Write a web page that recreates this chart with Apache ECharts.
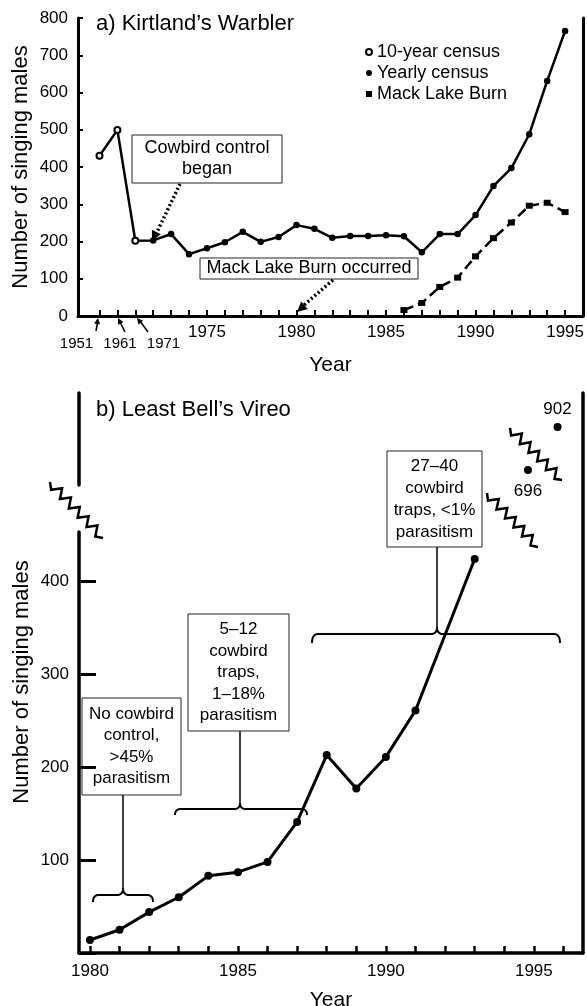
<!DOCTYPE html>
<html>
<head>
<meta charset="utf-8">
<script src="https://cdn.jsdelivr.net/npm/echarts@6.0.0/dist/echarts.min.js"></script>
<style>
  html, body { margin: 0; padding: 0; background: #fff; }
  #main { width: 587px; height: 1006px; }
</style>
</head>
<body>
<div id="main"></div>
<script>
// a) Kirtland's Warbler
// the three 10-year censuses sit on the first three tick positions of the axis
const tenYearLabels = ['1951', '1961', '1971']
const tenYearPos = [1969, 1970, 1971]
const tenYearVals = [430, 499, 202]
const yearlyYears = [1972, 1973, 1974, 1975, 1976, 1977, 1978, 1979, 1980, 1981, 1982, 1983,
  1984, 1985, 1986, 1987, 1988, 1989, 1990, 1991, 1992, 1993, 1994, 1995]
const yearlyVals = [203, 220, 166, 182, 198, 226, 199, 212, 244, 234, 210, 215,
  215, 217, 214, 171, 220, 220, 271, 349, 397, 488, 631, 765]
const mackYears = [1986, 1987, 1988, 1989, 1990, 1991, 1992, 1993, 1994, 1995]
const mackVals = [16, 35, 78, 103, 160, 209, 251, 296, 304, 279]
const topTicks = [1969, 1970, 1971, 1972, 1973, 1974, 1975, 1976, 1977, 1978, 1979, 1980, 1981,
  1982, 1983, 1984, 1985, 1986, 1987, 1988, 1989, 1990, 1991, 1992, 1993, 1994, 1995]
const topLabels = [1975, 1980, 1985, 1990, 1995]

// b) Least Bell's Vireo
const vireoYears = [1980, 1981, 1982, 1983, 1984, 1985, 1986, 1987, 1988, 1989, 1990, 1991, 1993]
const vireoVals = [14, 25, 44, 60, 83, 87, 98, 141, 213, 177, 211, 261, 424]
// points above the axis break
const vireoHighYears = [1994.8, 1995.8]
const vireoHighVals = [696, 902]
const bottomTicks = [1980, 1981, 1982, 1983, 1984, 1985, 1986, 1987, 1988, 1989, 1990, 1991,
  1992, 1993, 1994, 1995, 1996]
const bottomLabels = [1980, 1985, 1990, 1995]

const FONT = "'Liberation Sans', Arial, Helvetica, sans-serif"
const black = '#000'

function zip(xs, ys) {
  return xs.map((x, i) => [x, ys[i]])
}

// wavy break mark along a diagonal
function zigzag(x1, y1, x2, y2, n, a) {
  const dx = x2 - x1, dy = y2 - y1, L = Math.hypot(dx, dy)
  const nx = -dy / L, ny = dx / L
  const pts = []
  const m = n * 2
  for (let i = 0; i <= m; i++) {
    const t = i / m
    const s = (i === 0 || i === m) ? 0 : (i % 2 ? a : -a)
    pts.push([x1 + dx * t + nx * s, y1 + dy * t + ny * s])
  }
  return {
    type: 'polyline',
    shape: { points: pts },
    style: { stroke: black, lineWidth: 2.5, fill: null }
  }
}

// points of a quadratic curve
function quad(p0, p1, p2) {
  const out = []
  for (let i = 0; i <= 8; i++) {
    const t = i / 8, u = 1 - t
    out.push([u * u * p0[0] + 2 * u * t * p1[0] + t * t * p2[0],
      u * u * p0[1] + 2 * u * t * p1[1] + t * t * p2[1]])
  }
  return out
}

// horizontal curly brace, tip pointing up
function brace(x1, x2, cx, y, tip, end) {
  const r = 6
  const pts = []
    .concat(quad([x1, end], [x1, y], [x1 + r, y]))
    .concat(quad([cx - r, y], [cx, y], [cx, tip]))
    .concat(quad([cx, tip], [cx, y], [cx + r, y]))
    .concat(quad([x2 - r, y], [x2, y], [x2, end]))
  return {
    type: 'polyline',
    shape: { points: pts },
    style: { stroke: black, lineWidth: 2, fill: null }
  }
}

function line(x1, y1, x2, y2, w, dash) {
  return {
    type: 'line',
    shape: { x1: x1, y1: y1, x2: x2, y2: y2 },
    style: { stroke: black, lineWidth: w, lineDash: dash || null }
  }
}

// arrow head with tip at (x2,y2), coming from (x1,y1)
function head(x1, y1, x2, y2, len, half) {
  const ang = Math.atan2(y2 - y1, x2 - x1)
  const bx = x2 - Math.cos(ang) * len, by = y2 - Math.sin(ang) * len
  const px = -Math.sin(ang) * half, py = Math.cos(ang) * half
  return {
    type: 'polygon',
    shape: { points: [[x2, y2], [bx + px, by + py], [bx - px, by - py]] },
    style: { fill: black }
  }
}

function box(x, y, w, h, txt, size, lh) {
  return [
    {
      type: 'rect',
      shape: { x: x, y: y, width: w, height: h },
      style: { fill: '#fff', stroke: '#222', lineWidth: 1 }
    },
    {
      type: 'text',
      x: x + w / 2,
      y: y + h / 2,
      style: {
        text: txt, fill: black, font: size + 'px ' + FONT,
        align: 'center', verticalAlign: 'middle', lineHeight: lh
      }
    }
  ]
}

function label(x, y, txt, size) {
  return {
    type: 'text', x: x, y: y,
    style: { text: txt, fill: black, font: size + 'px ' + FONT, align: 'center', verticalAlign: 'middle' }
  }
}

let myChart = echarts.init(document.getElementById('main'))

const hiddenX = (grid, min, max) => ({
  type: 'value', gridIndex: grid, min: min, max: max, show: false
})

let graphics = []
  // top panel annotations
  .concat(box(132, 135, 150, 48, 'Cowbird control\nbegan', 18, 21))
  .concat([line(180, 184, 157, 232, 3.5, [2, 2.5]), head(180, 184, 152, 241, 10, 5)])
  .concat(box(200, 258, 218, 21, 'Mack Lake Burn occurred', 18, 21))
  .concat([line(333, 280, 304, 305, 3.5, [2, 2.5]), head(333, 280, 297, 312, 10, 5)])
  .concat([
    line(96, 331, 97.5, 323, 1.5), head(96, 331, 98, 318, 6, 3),
    line(125, 332, 120, 322, 1.5), head(125, 332, 118, 318, 6, 3),
    line(148, 332, 140, 321, 1.5), head(148, 332, 137, 318, 6, 3),
    label(76.5, 344, tenYearLabels[0], 15),
    label(120, 344, tenYearLabels[1], 15),
    label(163.5, 344, tenYearLabels[2], 15)
  ])
  // bottom panel annotations
  .concat([line(123, 795, 123, 889, 1.5), brace(93, 153, 123, 895, 888, 902)])
  .concat(box(82, 698, 99, 97, 'No cowbird\ncontrol,\n>45%\nparasitism', 17, 21.5))
  .concat([line(240, 731, 240, 804, 1.5), brace(175, 307, 240, 809, 803, 815)])
  .concat(box(188, 614, 101, 117, '5\u201312\ncowbird\ntraps,\n1\u201318%\nparasitism', 17, 21.5))
  .concat([line(437, 547, 437, 628, 1.5), brace(312, 560, 437, 634, 627, 643)])
  .concat(box(387, 451, 95, 96, '27\u201340\ncowbird\ntraps, <1%\nparasitism', 17, 22))
  .concat([
    zigzag(50, 482, 103, 538, 6, 4.5),
    zigzag(510, 428, 562, 480, 6, 4.5),
    zigzag(487, 493, 538, 547, 6, 4.5),
    {
      type: 'text', x: 22, y: 682, rotation: Math.PI / 2,
      style: {
        text: 'Number of singing males', fill: black, font: '22px ' + FONT,
        align: 'center', verticalAlign: 'middle'
      }
    }
  ])

let option = {
  animation: false,
  backgroundColor: '#fff',
  textStyle: { fontFamily: FONT, color: black },
  title: [
    {
      text: 'a) Kirtland\u2019s Warbler', left: 96, top: 13, padding: 0,
      textStyle: { fontSize: 22, fontWeight: 'normal', color: black, fontFamily: FONT }
    },
    {
      text: 'b) Least Bell\u2019s Vireo', left: 96, top: 399, padding: 0,
      textStyle: { fontSize: 22, fontWeight: 'normal', color: black, fontFamily: FONT }
    }
  ],
  legend: {
    orient: 'vertical',
    left: 365,
    top: 43,
    padding: 0,
    itemGap: 3,
    itemWidth: 6,
    itemHeight: 6,
    selectedMode: false,
    textStyle: { fontSize: 18, color: black, fontFamily: FONT },
    data: [
      { name: '10-year census', icon: 'emptyCircle' },
      { name: 'Yearly census', icon: 'circle' },
      { name: 'Mack Lake Burn', icon: 'rect' }
    ]
  },
  grid: [
    { left: 78, top: 18, width: 505, height: 298, outerBoundsMode: 'none' },
    { left: 79, top: 532, width: 504, height: 421, outerBoundsMode: 'none' },
    { left: 79, top: 393, width: 504, height: 92, outerBoundsMode: 'none' },
    { left: 79, top: 393, width: 504, height: 560, outerBoundsMode: 'none' }
  ],
  xAxis: [
    {
      type: 'value', gridIndex: 0, min: 1967.8, max: 1996,
      name: 'Year', nameLocation: 'middle', nameGap: 39, nameMoveOverlap: false,
      nameTextStyle: { fontSize: 21, color: black, fontFamily: FONT },
      axisLine: { lineStyle: { color: black, width: 3 } },
      axisTick: { inside: true, length: 6, customValues: topTicks, lineStyle: { color: black, width: 2 } },
      axisLabel: {
        customValues: topLabels, fontSize: 17, color: black, margin: 8, fontFamily: FONT,
        formatter: function(v) { return String(v) }
      },
      splitLine: { show: false }
    },
    {
      type: 'value', gridIndex: 1, min: 1979.63, max: 1996.66,
      name: 'Year', nameLocation: 'middle', nameGap: 37, nameMoveOverlap: false,
      nameTextStyle: { fontSize: 21, color: black, fontFamily: FONT },
      axisLine: { lineStyle: { color: black, width: 3.5 } },
      axisTick: { inside: true, length: 7, customValues: bottomTicks, lineStyle: { color: black, width: 2.5 } },
      axisLabel: {
        customValues: bottomLabels, fontSize: 17, color: black, margin: 10, fontFamily: FONT,
        formatter: function(v) { return String(v) }
      },
      splitLine: { show: false }
    },
    hiddenX(2, 1979.63, 1996.66),
    hiddenX(3, 1979.63, 1996.66)
  ],
  yAxis: [
    {
      type: 'value', gridIndex: 0, min: 0, max: 800, interval: 100,
      name: 'Number of singing males', nameLocation: 'middle', nameGap: 46, nameMoveOverlap: false,
      nameTextStyle: { fontSize: 22, color: black, fontFamily: FONT },
      axisLine: { show: true, lineStyle: { color: black, width: 3 } },
      axisTick: { show: true, inside: true, length: 5, lineStyle: { color: black, width: 2 } },
      axisLabel: { fontSize: 17, color: black, margin: 10, fontFamily: FONT },
      splitLine: { show: false }
    },
    {
      type: 'value', gridIndex: 0, position: 'right', min: 0, max: 800,
      axisLine: { show: true, lineStyle: { color: black, width: 3 } },
      axisTick: { show: false }, axisLabel: { show: false }, splitLine: { show: false }
    },
    {
      type: 'value', gridIndex: 1, min: 0, max: 453, interval: 100,
      axisLine: { show: true, lineStyle: { color: black, width: 3.5 } },
      axisTick: { show: true, inside: true, length: 17, lineStyle: { color: black, width: 3 } },
      axisLabel: {
        fontSize: 17, color: black, margin: 10, fontFamily: FONT, showMaxLabel: false,
        formatter: function(v) { return (v === 0 || v % 100) ? '' : String(v) }
      },
      splitLine: { show: false }
    },
    {
      type: 'value', gridIndex: 2, min: 624, max: 1065,
      axisLine: { show: true, lineStyle: { color: black, width: 3.5 } },
      axisTick: { show: false }, axisLabel: { show: false }, splitLine: { show: false }
    },
    {
      type: 'value', gridIndex: 3, position: 'right', min: 0, max: 1,
      axisLine: { show: true, lineStyle: { color: black, width: 3.5 } },
      axisTick: { show: false }, axisLabel: { show: false }, splitLine: { show: false }
    }
  ],
  series: [
    {
      name: 'Yearly census',
      type: 'line',
      xAxisIndex: 0, yAxisIndex: 0,
      data: [{ value: [tenYearPos[2], tenYearVals[2]], symbol: 'none' }].concat(zip(yearlyYears, yearlyVals)),
      symbol: 'circle', symbolSize: 6.5,
      itemStyle: { color: black },
      lineStyle: { color: black, width: 2.5 },
      z: 2
    },
    {
      name: '10-year census',
      type: 'line',
      xAxisIndex: 0, yAxisIndex: 0,
      data: zip(tenYearPos, tenYearVals),
      symbol: 'emptyCircle', symbolSize: 6,
      itemStyle: { color: black, borderWidth: 1.2 },
      lineStyle: { color: black, width: 2.5 },
      z: 3
    },
    {
      name: 'Mack Lake Burn',
      type: 'line',
      xAxisIndex: 0, yAxisIndex: 0,
      data: zip(mackYears, mackVals),
      symbol: 'rect', symbolSize: [7, 6],
      itemStyle: { color: black },
      lineStyle: { color: black, width: 2.5, type: [10, 5] },
      z: 2
    },
    {
      name: 'Least Bell\u2019s Vireo',
      type: 'line',
      xAxisIndex: 1, yAxisIndex: 2,
      data: zip(vireoYears, vireoVals),
      symbol: 'circle', symbolSize: 8,
      itemStyle: { color: black },
      lineStyle: { color: black, width: 3 },
      z: 4
    },
    {
      name: 'Least Bell\u2019s Vireo (high)',
      type: 'scatter',
      xAxisIndex: 2, yAxisIndex: 3,
      data: [
        { value: [vireoHighYears[0], vireoHighVals[0]], label: { position: 'bottom', distance: 9 } },
        { value: [vireoHighYears[1], vireoHighVals[1]], label: { position: 'top', distance: 5 } }
      ],
      symbol: 'circle', symbolSize: 8,
      itemStyle: { color: black, opacity: 1 },
      label: {
        show: true, fontSize: 17, color: black, fontFamily: FONT,
        formatter: function(p) { return p.value[1] }
      },
      z: 4
    }
  ],
  graphic: graphics
}

myChart.setOption(option)
</script>
</body>
</html>
